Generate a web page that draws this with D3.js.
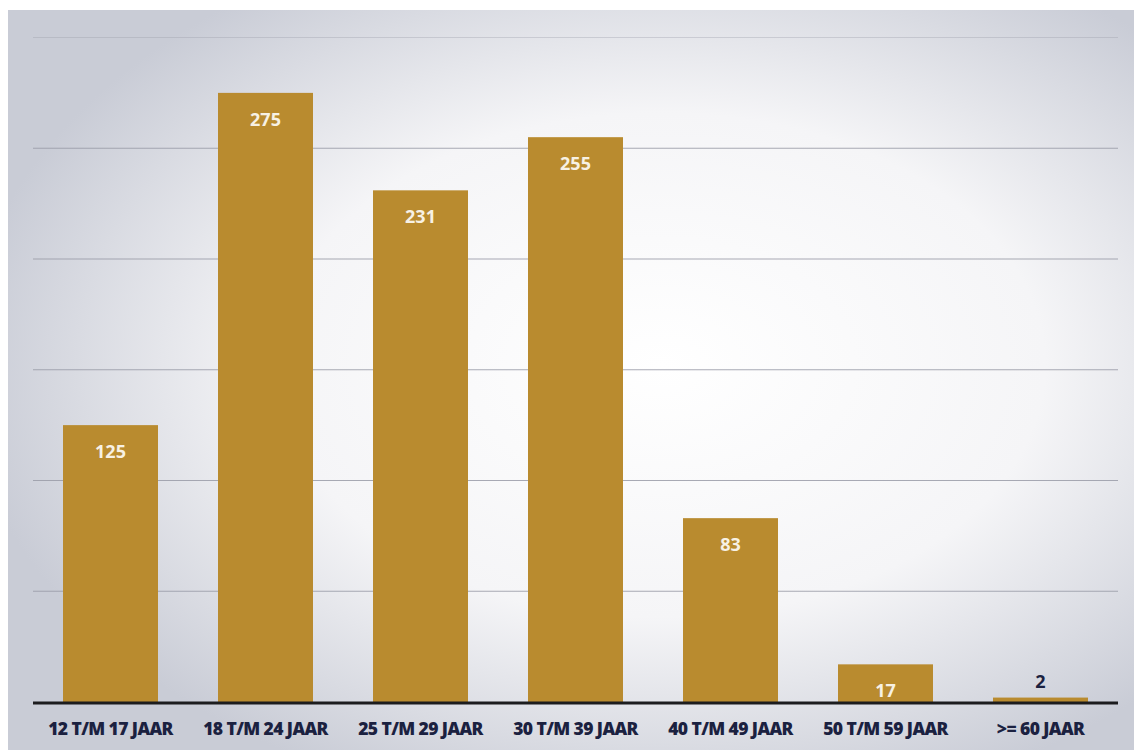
<!DOCTYPE html>
<html><head><meta charset="utf-8">
<script src="https://cdn.jsdelivr.net/npm/d3@7"></script>
<style>html,body{margin:0;padding:0;background:#fff;}svg{display:block;}</style>
</head><body>
<svg id="chart" width="1134" height="750"></svg>
<script>
const categories = ["12 T/M 17 JAAR","18 T/M 24 JAAR","25 T/M 29 JAAR","30 T/M 39 JAAR","40 T/M 49 JAAR","50 T/M 59 JAAR",">= 60 JAAR"];
const values = [125, 275, 231, 255, 83, 17, 2];
const gridTicks = [50, 100, 150, 200, 250, 300];

const svg = d3.select("#chart");
const W = 1134, H = 750;
const defs = svg.append("defs");
const rg = defs.append("radialGradient").attr("id","bg").attr("cx","58%").attr("cy","48%").attr("r","62%");
rg.append("stop").attr("offset","0%").attr("stop-color","#ffffff");
rg.append("stop").attr("offset","55%").attr("stop-color","#f5f5f7");
rg.append("stop").attr("offset","100%").attr("stop-color","#c9ccd6");
svg.append("rect").attr("x",8).attr("y",10).attr("width",W-8).attr("height",H-10).attr("fill","url(#bg)");

const x = d3.scaleBand().domain(categories).range([33,1118]).paddingInner(60/155).paddingOuter(30/155);
const y = d3.scaleLinear().domain([0,300]).range([702,37.5]);

svg.append("g").selectAll("line").data(gridTicks).join("line")
  .attr("x1",33).attr("x2",1118)
  .attr("y1",d=>y(d)).attr("y2",d=>y(d))
  .attr("stroke","#9a9ca8").attr("stroke-width",1.2).attr("opacity",d=>d===300?0.35:0.85);

svg.append("g").selectAll("rect").data(values).join("rect")
  .attr("x",(d,i)=>x(categories[i])).attr("width",x.bandwidth())
  .attr("y",d=>y(d)).attr("height",d=>y(0)-y(d))
  .attr("fill","#b98b2f");

svg.append("line").attr("x1",33).attr("x2",1118).attr("y1",y(0)+1).attr("y2",y(0)+1)
  .attr("stroke","#1c1c1e").attr("stroke-width",3);

svg.append("g").selectAll("text").data(values).join("text")
  .attr("x",(d,i)=>x(categories[i])+x.bandwidth()/2)
  .attr("y",d=> d<10 ? y(d)-10 : y(d)+33)
  .attr("text-anchor","middle")
  .attr("font-family","'Open Sans', sans-serif").attr("font-weight","bold").attr("font-size",18)
  .attr("fill",d=> d<10 ? "#1b2140" : "#f7f1e4")
  .text(d=>d);

const axis = d3.axisBottom(x).tickSize(0).tickPadding(0);
const ax = svg.append("g").attr("transform",`translate(0,${y(0)})`).call(axis);
ax.select(".domain").remove();
ax.selectAll("text").attr("y",33).attr("dy",0)
  .attr("font-family","'Open Sans', sans-serif").attr("font-weight","800").attr("font-size",17.5)
  .attr("fill","#1b2140").attr("letter-spacing","-0.6");
</script>
</body></html>
